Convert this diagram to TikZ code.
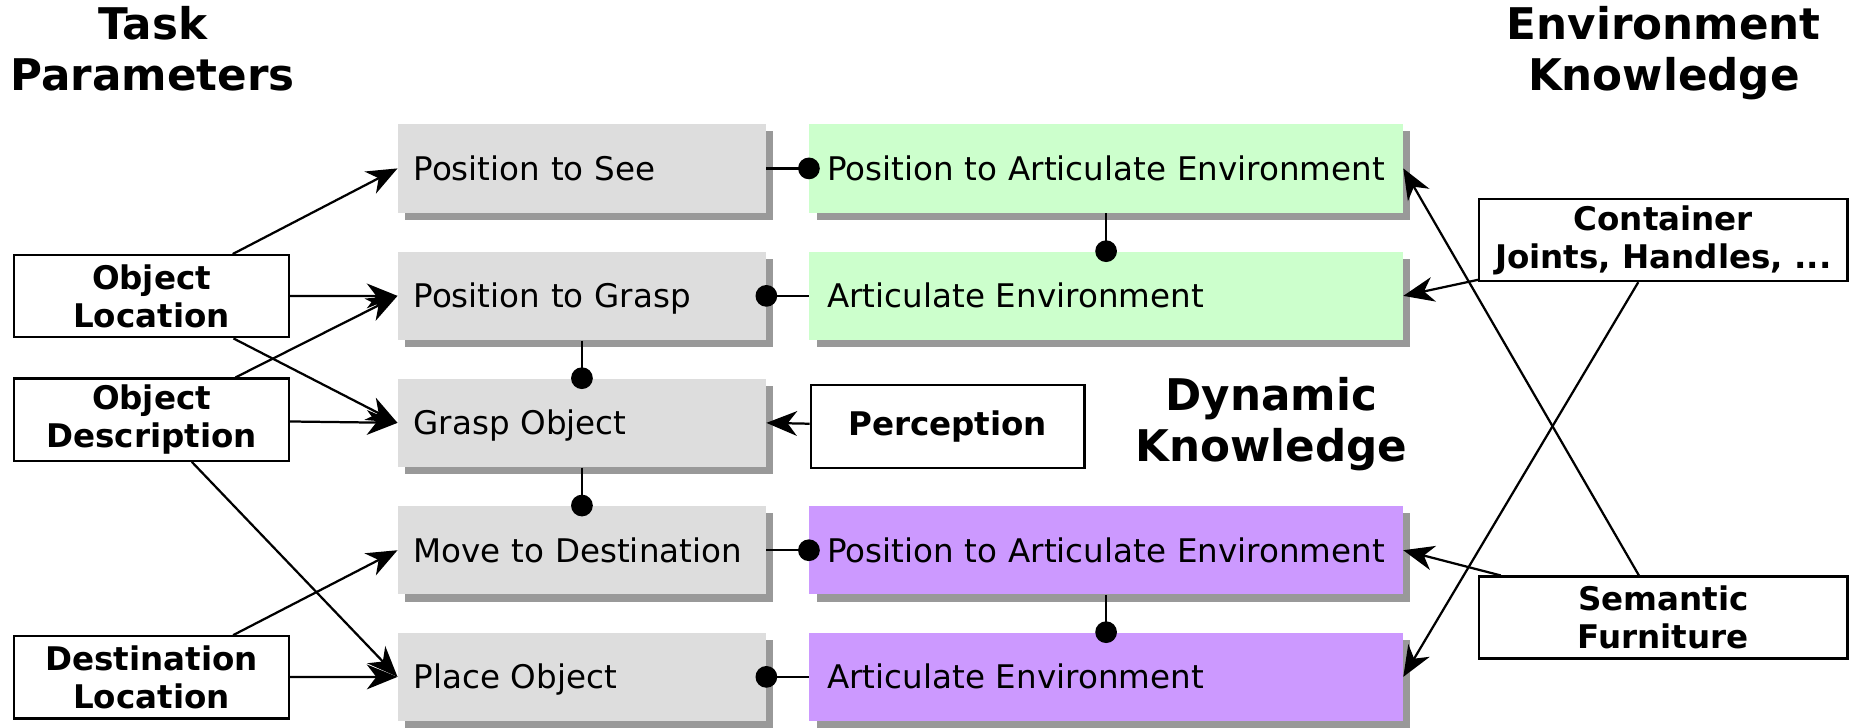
\documentclass[tikz,border=0pt]{standalone}
\usepackage{fontspec}
\setmainfont{DejaVu Sans}
\usetikzlibrary{arrows.meta,shadows}

\definecolor{boxgray}{HTML}{DDDDDD}
\definecolor{shadowgray}{HTML}{999999}
\definecolor{envgreen}{HTML}{CCFFCC}
\definecolor{dynpurple}{HTML}{CC99FF}

\tikzset{
  base font/.style={font=\fontsize{13.8}{16.25}\selectfont},
  actionbox/.style={base font, inner ysep=0pt, minimum height=37.5pt,
    align=left, text height=10.05pt, text depth=0pt,
    drop shadow={shadow xshift=3.1pt, shadow yshift=-3.1pt, fill=shadowgray, opacity=1}},
  robotstep/.style={actionbox, fill=boxgray, inner xsep=6.6pt, text width=142.8pt},
  envstep/.style={actionbox, fill=envgreen, inner xsep=7.6pt, text width=236.4pt},
  dynstep/.style={actionbox, fill=dynpurple, inner xsep=7.6pt, text width=236.4pt},
  infobox/.style={draw, line width=0.95pt, fill=white, inner sep=0pt,
    font=\fontsize{13.8}{16.25}\selectfont\bfseries, align=center},
  heading/.style={font=\fontsize{18.5}{21.6}\selectfont\bfseries, align=center, inner sep=0pt},
  feeds/.style={line width=0.95pt, -{Stealth[length=13pt, width=10.5pt, inset=4pt]}},
  sequence/.style={line width=0.95pt, -{Circle[length=9.2pt]}, shorten >=-4.6pt},
}

\begin{document}
\begin{tikzpicture}[x=0.5pt, y=-0.5pt]
\useasboundingbox (0,0) rectangle (1568,617);

% headings
\node[heading] (taskhead) at (129.5,41) {Task\\Parameters};
\node[heading] (envhead) at (1411,45) {Environment\\Knowledge};
\node[heading] (dynhead) at (1078,359.4) {Dynamic\\Knowledge};

% robot action sequence
\node[robotstep] (possee)   at (493.5,142.8) {Position to See};
\node[robotstep] (posgrasp) at (493.5,250.9) {Position to Grasp};
\node[robotstep] (grasp)    at (493.5,358.6) {Grasp Object};
\node[robotstep] (movedest) at (493.5,466.6) {Move to Destination};
\node[robotstep] (place)    at (493.5,574.0) {Place Object};

% environment articulation steps
\node[envstep] (posartg) at (938,142.8) {\mbox{Position to Articulate Environment}};
\node[envstep] (artenvg) at (938,250.9) {Articulate Environment};
\node[dynstep] (posartp) at (938,466.6) {\mbox{Position to Articulate Environment}};
\node[dynstep] (artenvp) at (938,574.0) {Articulate Environment};

% inputs
\node[infobox, minimum width=116.5pt, minimum height=34.85pt] (objloc)  at (128.5,251.2) {Object\\Location};
\node[infobox, minimum width=116.5pt, minimum height=34.85pt] (objdesc) at (128.5,355.9) {Object\\Description};
\node[infobox, minimum width=116.5pt, minimum height=34.85pt] (destloc) at (128.5,574.4) {Destination\\Location};
\node[infobox, minimum width=116pt, minimum height=35.1pt] (perception) at (803.6,361.6) {Perception};
\node[infobox, minimum width=156.15pt, minimum height=34.75pt] (container) at (1410.5,203.6) {Container\\Joints, Handles, ...};
\node[infobox, minimum width=156.15pt, minimum height=34.75pt] (semantic) at (1410.5,523.7) {Semantic\\Furniture};

% parameter flow
\draw[feeds] (objloc) -- (possee.west);
\draw[feeds] (objloc) -- (posgrasp.west);
\draw[feeds] (objloc) -- (grasp.west);
\draw[feeds] (objdesc) -- (posgrasp.west);
\draw[feeds] (objdesc) -- (grasp.west);
\draw[feeds] (objdesc) -- (place.west);
\draw[feeds] (destloc) -- (movedest.west);
\draw[feeds] (destloc) -- (place.west);
\draw[feeds] (perception) -- (grasp.east);
\draw[feeds] (container) -- (artenvg.east);
\draw[feeds] (container) -- (artenvp.east);
\draw[feeds] (semantic) -- (posartg.east);
\draw[feeds] (semantic) -- (posartp.east);

% execution order
\draw[sequence] (possee.east) -- (posartg.west);
\draw[sequence] (posartg.south) -- (artenvg.north);
\draw[sequence] (artenvg.west) -- (posgrasp.east);
\draw[sequence] (posgrasp.south) -- (grasp.north);
\draw[sequence] (grasp.south) -- (movedest.north);
\draw[sequence] (movedest.east) -- (posartp.west);
\draw[sequence] (posartp.south) -- (artenvp.north);
\draw[sequence] (artenvp.west) -- (place.east);
\end{tikzpicture}
\end{document}
